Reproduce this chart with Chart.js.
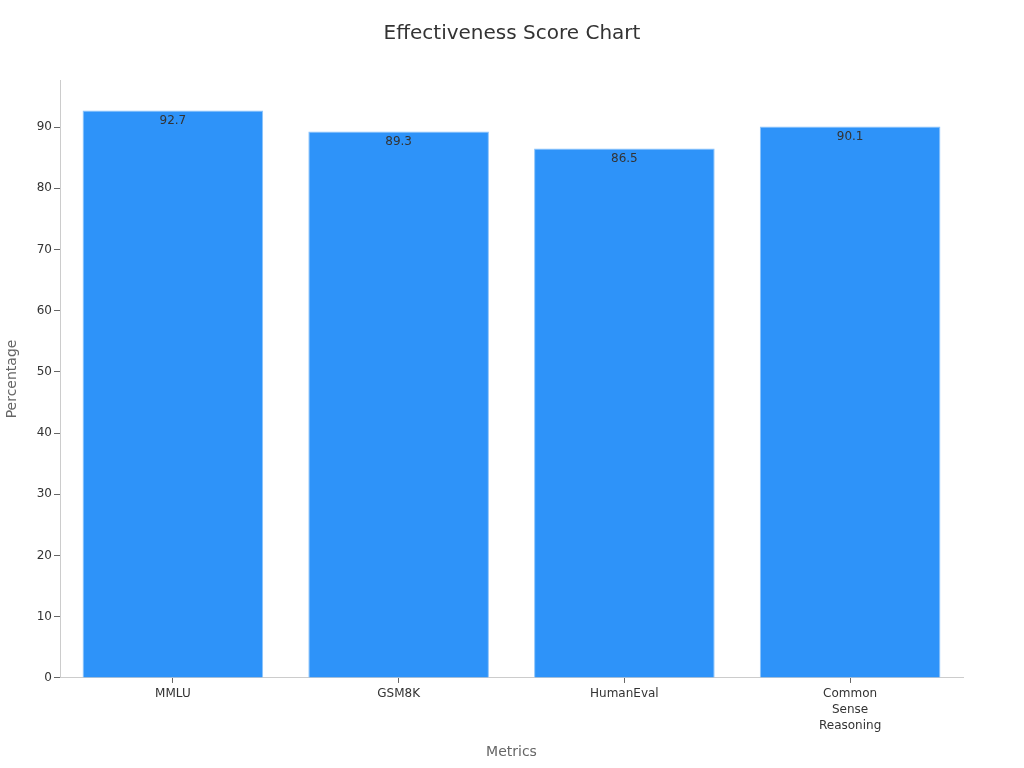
<!DOCTYPE html>
<html><head><meta charset="utf-8">
<script src="https://cdn.jsdelivr.net/npm/chart.js@4"></script>
<style>html,body{margin:0;padding:0;background:#fff}#wrap{width:1024px;height:768px}</style>
</head><body><div id="wrap"><canvas id="c" width="1024" height="768"></canvas></div>
<script>
const categories = [["MMLU"], ["GSM8K"], ["HumanEval"], ["Common", "Sense", "Reasoning"]];
const scores = [92.7, 89.3, 86.5, 90.1];
const yTicks = [0, 10, 20, 30, 40, 50, 60, 70, 80, 90];

const valueLabels = {
  id: 'valueLabels',
  afterDatasetsDraw(chart) {
    const ctx = chart.ctx;
    const meta = chart.getDatasetMeta(0);
    ctx.save();
    ctx.font = '12px "DejaVu Sans"';
    ctx.fillStyle = '#333';
    ctx.textAlign = 'center';
    ctx.textBaseline = 'top';
    meta.data.forEach((bar, i) => {
      ctx.fillText(scores[i].toFixed(1), bar.x, bar.y + 4);
    });
    ctx.restore();
  }
};

new Chart(document.getElementById('c'), {
  type: 'bar',
  data: {
    labels: categories,
    datasets: [{
      data: scores,
      backgroundColor: '#2E93F9',
      borderColor: '#8cc4fb',
      borderWidth: 1,
      barPercentage: 0.8,
      categoryPercentage: 1.0
    }]
  },
  options: {
    responsive: false,
    animation: false,
    layout: { padding: { left: 0, right: 0, top: 10, bottom: 7 } },
    plugins: {
      legend: { display: false },
      tooltip: { enabled: false },
      title: {
        display: true,
        text: 'Effectiveness Score Chart',
        color: '#333',
        font: { family: 'DejaVu Sans', size: 20, weight: 'normal' },
        padding: { top: 12, bottom: 34 }
      }
    },
    scales: {
      x: {
        grid: { display: true, offset: false, drawOnChartArea: false, drawTicks: true, tickLength: 5, color: '#666' },
        border: { color: '#ccc' },
        ticks: { color: '#333', font: { family: 'DejaVu Sans', size: 12, lineHeight: 1.34 }, padding: 3 },
        title: { display: true, text: 'Metrics', color: '#666', font: { family: 'DejaVu Sans', size: 14 }, padding: { top: 7, bottom: 0 } }
      },
      y: {
        min: 0,
        max: 97.7,
        afterBuildTicks(axis) { axis.ticks = yTicks.map(v => ({ value: v })); },
        grid: { display: true, drawOnChartArea: false, drawTicks: true, tickLength: 6, color: '#666' },
        border: { color: '#ccc' },
        ticks: { color: '#333', font: { family: 'DejaVu Sans', size: 12 }, padding: 2 },
        title: { display: true, text: 'Percentage', color: '#666', font: { family: 'DejaVu Sans', size: 14 }, padding: { bottom: 16 } },
        afterFit(s) { s.width = 60; }
      },
      yRight: {
        position: 'right',
        display: true,
        grid: { display: false },
        border: { display: false },
        ticks: { display: false },
        afterFit(s) { s.width = 61; }
      }
    }
  },
  plugins: [valueLabels]
});
</script></body></html>
